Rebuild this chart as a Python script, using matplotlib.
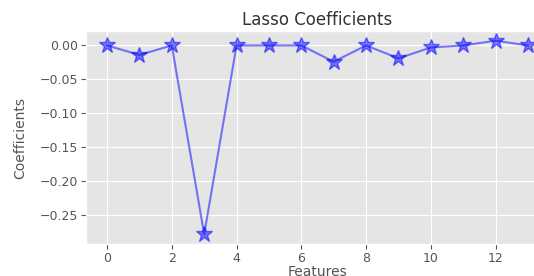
import matplotlib
matplotlib.use('Agg')
import matplotlib.pyplot as plt

features = list(range(14))
coefs = [0.0, -0.014, 0.0, -0.278, 0.0, 0.0, 0.0, -0.024, 0.0, -0.019, -0.003, 0.0, 0.007, 0.0]

plt.style.use('ggplot')

fig = plt.figure(figsize=(5.34, 2.76), dpi=100)
ax = fig.add_axes([86 / 534, 1 - 244 / 276, (549 - 86) / 534, (244 - 31) / 276])
ax.plot(features, coefs, marker='*', markersize=12, color='blue', alpha=0.5)
ax.set_title("Lasso Coefficients", fontsize=12, color='#333333', pad=4)
ax.set_xlabel("Features", fontsize=10, labelpad=0)
ax.set_ylabel("Coefficients", fontsize=10, labelpad=9)
ax.tick_params(labelsize=9, pad=2)
ax.set_xticks(range(0, 14, 2))

fig.savefig('out.png', dpi=100)
